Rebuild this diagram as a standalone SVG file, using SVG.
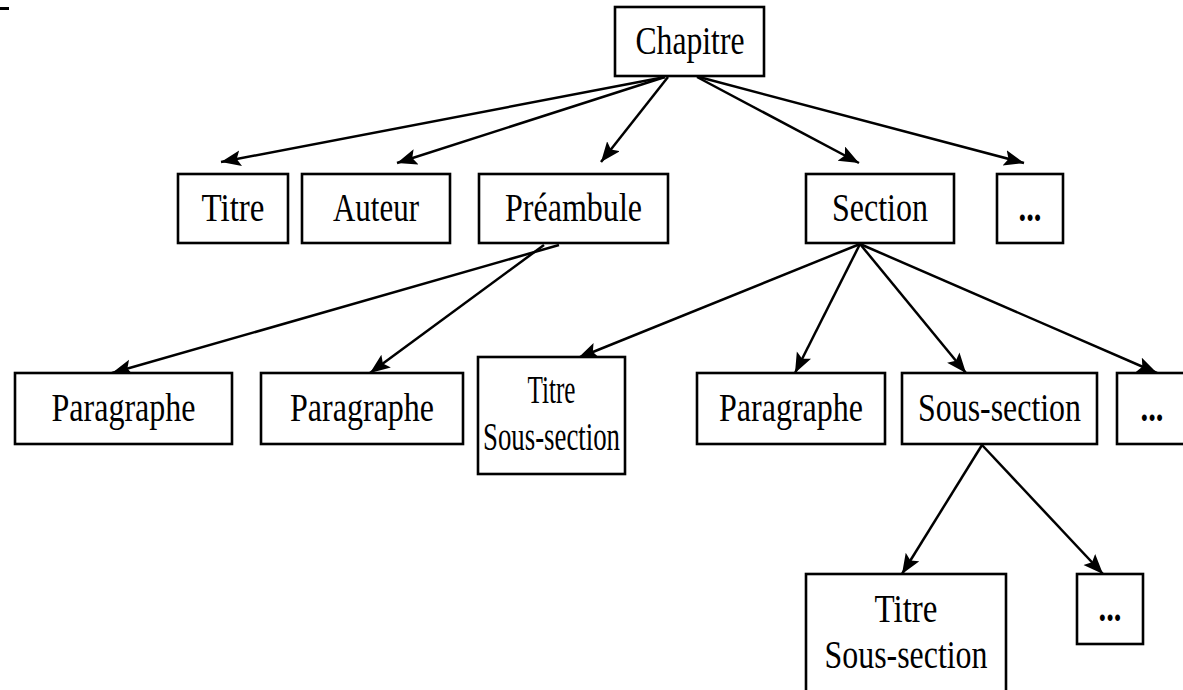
<svg xmlns="http://www.w3.org/2000/svg" width="1183" height="690" viewBox="0 0 1183 690">
  <style>
    .box { fill: #ffffff; stroke: #000000; stroke-width: 2.6; }
    .lbl { font-family: "Liberation Serif", "Times New Roman", serif; font-size: 39px; fill: #000000; text-anchor: middle; }
    .dots { font-family: "Liberation Serif", "Times New Roman", serif; font-size: 39px; font-weight: bold; fill: #000000; text-anchor: middle; }
    .edge { fill: none; stroke: #000000; stroke-width: 2.5; marker-end: url(#arrow); }
  </style>
  <defs>
    <marker id="arrow" markerUnits="userSpaceOnUse" markerWidth="22" markerHeight="18" refX="20" refY="8" orient="auto">
      <path d="M0,0 L20,8 L0,16 L4,8 Z" fill="#000000"/>
    </marker>
  </defs>

  <rect x="0" y="7" width="9" height="3" fill="#000000"/>

  <!-- connectors -->
  <g id="connectors">
    <line class="edge" x1="665" y1="77" x2="221" y2="162"/>
    <line class="edge" x1="665" y1="77" x2="397" y2="163"/>
    <line class="edge" x1="668" y1="77" x2="601" y2="162"/>
    <line class="edge" x1="697" y1="77" x2="859" y2="163"/>
    <line class="edge" x1="699" y1="77" x2="1024" y2="163"/>

    <line class="edge" x1="559" y1="245" x2="112" y2="373"/>
    <line class="edge" x1="544" y1="245" x2="370" y2="373"/>

    <line class="edge" x1="860" y1="244" x2="578" y2="358"/>
    <line class="edge" x1="860" y1="244" x2="795" y2="373"/>
    <line class="edge" x1="860" y1="244" x2="966" y2="373"/>
    <line class="edge" x1="860" y1="244" x2="1157" y2="373"/>

    <line class="edge" x1="982" y1="445" x2="902" y2="574"/>
    <line class="edge" x1="982" y1="445" x2="1103" y2="574"/>
  </g>

  <!-- root -->
  <g id="chapitre">
    <rect class="box" x="615" y="7" width="149" height="69"/>
    <text class="lbl" x="690" y="54" textLength="109" lengthAdjust="spacingAndGlyphs">Chapitre</text>
  </g>

  <!-- second level -->
  <g id="titre">
    <rect class="box" x="178" y="174" width="110" height="69"/>
    <text class="lbl" x="233" y="221" textLength="63" lengthAdjust="spacingAndGlyphs">Titre</text>
  </g>
  <g id="auteur">
    <rect class="box" x="302" y="174" width="148" height="69"/>
    <text class="lbl" x="376" y="221" textLength="86" lengthAdjust="spacingAndGlyphs">Auteur</text>
  </g>
  <g id="preambule">
    <rect class="box" x="479" y="174" width="189" height="69"/>
    <text class="lbl" x="573.5" y="221" textLength="137" lengthAdjust="spacingAndGlyphs">Préambule</text>
  </g>
  <g id="section">
    <rect class="box" x="806" y="174" width="148" height="69"/>
    <text class="lbl" x="880" y="221" textLength="96" lengthAdjust="spacingAndGlyphs">Section</text>
  </g>
  <g id="suite-chapitre">
    <rect class="box" x="997" y="174" width="66" height="69"/>
    <text class="dots" x="1030" y="221" textLength="23" lengthAdjust="spacingAndGlyphs">...</text>
  </g>

  <!-- third level -->
  <g id="paragraphe-1">
    <rect class="box" x="15" y="373" width="217" height="71"/>
    <text class="lbl" x="123.5" y="421" textLength="144" lengthAdjust="spacingAndGlyphs">Paragraphe</text>
  </g>
  <g id="paragraphe-2">
    <rect class="box" x="261" y="373" width="202" height="71"/>
    <text class="lbl" x="362" y="421" textLength="144" lengthAdjust="spacingAndGlyphs">Paragraphe</text>
  </g>
  <g id="titre-sous-section-1">
    <rect class="box" x="478" y="357" width="147" height="117"/>
    <text class="lbl" x="551.5" y="403" textLength="48" lengthAdjust="spacingAndGlyphs">Titre</text>
    <text class="lbl" x="551.5" y="450" textLength="137" lengthAdjust="spacingAndGlyphs">Sous-section</text>
  </g>
  <g id="paragraphe-3">
    <rect class="box" x="697" y="373" width="188" height="71"/>
    <text class="lbl" x="791" y="421" textLength="144" lengthAdjust="spacingAndGlyphs">Paragraphe</text>
  </g>
  <g id="sous-section">
    <rect class="box" x="902" y="373" width="195" height="71"/>
    <text class="lbl" x="999.5" y="421" textLength="163" lengthAdjust="spacingAndGlyphs">Sous-section</text>
  </g>
  <g id="suite-section">
    <rect class="box" x="1117" y="373" width="72" height="71"/>
    <text class="dots" x="1152" y="421" textLength="23" lengthAdjust="spacingAndGlyphs">...</text>
  </g>

  <!-- fourth level -->
  <g id="titre-sous-section-2">
    <rect class="box" x="806" y="574" width="200" height="120"/>
    <text class="lbl" x="906" y="622" textLength="63" lengthAdjust="spacingAndGlyphs">Titre</text>
    <text class="lbl" x="906" y="668" textLength="163" lengthAdjust="spacingAndGlyphs">Sous-section</text>
  </g>
  <g id="suite-sous-section">
    <rect class="box" x="1077" y="574" width="66" height="70"/>
    <text class="dots" x="1110" y="621" textLength="23" lengthAdjust="spacingAndGlyphs">...</text>
  </g>
</svg>
